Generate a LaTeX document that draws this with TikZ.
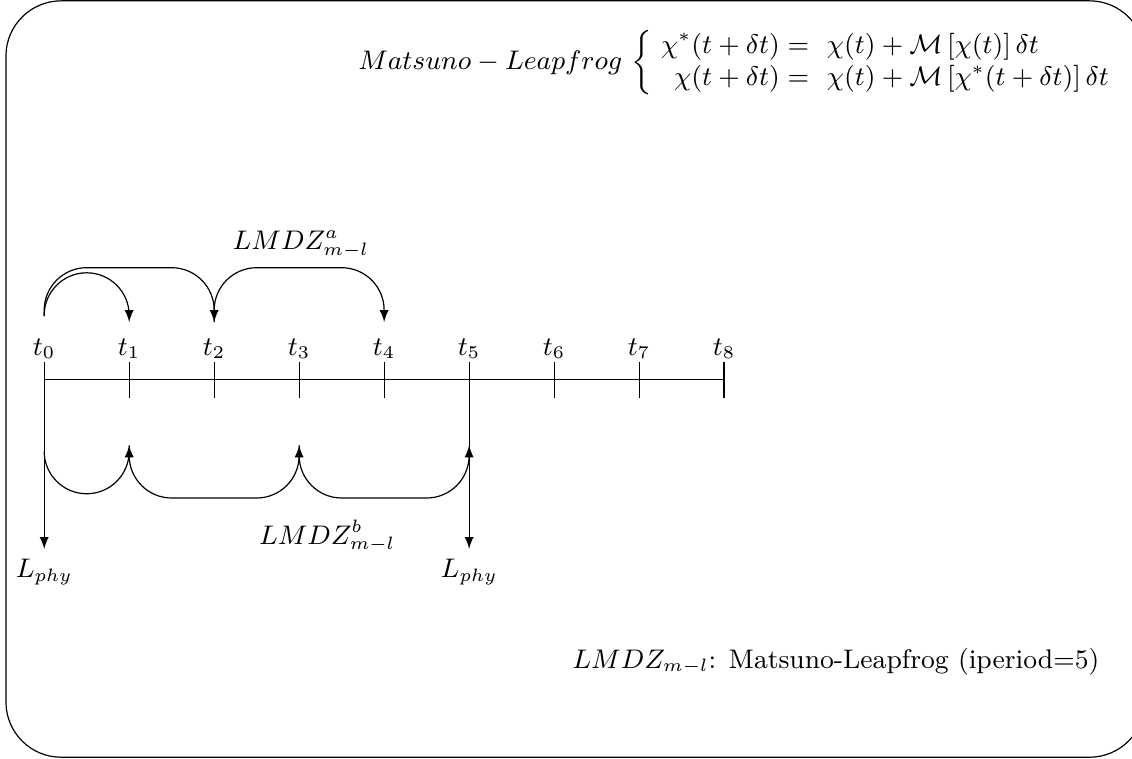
\documentclass[tikz,border=0pt]{standalone}
\usepackage{amsmath}
\begin{document}
\begin{tikzpicture}[font=\fontsize{9}{11}\selectfont]
                \useasboundingbox (-0.52, -4.46) rectangle (12.80, 4.47);
                \draw [rounded corners=0.65cm] (-0.45, -4.44) rectangle (12.95, 4.46);
                \node [left] (scheme) at (12.80, 3.73) {\( Matsuno - Leapfrog \) \( \left\{
                    \arraycolsep=3pt
                    \begin{array}{rl}
                        \chi^{*}(t + \delta t) = & \chi(t) + \mathcal{M} \left[ \chi(t) \right] \delta t \\
                        \chi(t + \delta t) = & \chi(t) + \mathcal{M} \left[ \chi^{*}(t + \delta t) \right] \delta t
                    \end{array} \right. \)};
                % time axis and ticks
                \draw (0, 0) -- (8, 0);
                \draw (0, 0.21) -- (0, -0.21);
                \draw (1, 0.21) -- (1, -0.21);
                \draw (2, 0.21) -- (2, -0.21);
                \draw (3, 0.21) -- (3, -0.21);
                \draw (4, 0.21) -- (4, -0.21);
                \draw (5, 0.21) -- (5, -0.21);
                \draw (6, 0.21) -- (6, -0.21);
                \draw (7, 0.21) -- (7, -0.21);
                \draw (8, 0.21) -- (8, -0.21);
                \node [above, inner sep=1pt] (t0) at (0, 0.21) {\( t_0 \)};
                \node [above, inner sep=1pt] (t1) at (1, 0.21) {\( t_1 \)};
                \node [above, inner sep=1pt] (t2) at (2, 0.21) {\( t_2 \)};
                \node [above, inner sep=1pt] (t3) at (3, 0.21) {\( t_3 \)};
                \node [above, inner sep=1pt] (t4) at (4, 0.21) {\( t_4 \)};
                \node [above, inner sep=1pt] (t5) at (5, 0.21) {\( t_5 \)};
                \node [above, inner sep=1pt] (t6) at (6, 0.21) {\( t_6 \)};
                \node [above, inner sep=1pt] (t7) at (7, 0.21) {\( t_7 \)};
                \node [above, inner sep=1pt] (t8) at (8, 0.21) {\( t_8 \)};
                % leapfrog steps above the axis
                \coordinate (a0) at (0, 0.75);
                \coordinate (a1) at (1, 0.68);
                \coordinate (a2) at (2, 0.68);
                \coordinate (a4) at (4, 0.68);
                \draw [-latex, rounded corners=0.5cm] (a0) -- ++(0, 0.51) -| (a1);
                \draw [-latex, rounded corners=0.5cm] (a0) -- ++(0, 0.57) -| (a2);
                \draw [-latex, rounded corners=0.5cm] (a2) -- ++(0, 0.64) -| (a4);
                \node (lmdza) at (3.02, 1.6) {\( LMDZ^a_{m-l} \)};
                % steps below the axis
                \coordinate (b0) at (0, -0.84);
                \coordinate (b1) at (1, -0.77);
                \coordinate (b3) at (3, -0.77);
                \coordinate (b5) at (5, -0.77);
                \draw [-latex, rounded corners=0.5cm] (b0) -- ++(0, -0.5) -| (b1);
                \draw [-latex, rounded corners=0.5cm] (b1) -- ++(0, -0.62) -| (b3);
                \draw [-latex, rounded corners=0.5cm] (b3) -- ++(0, -0.62) -| (b5);
                \node (lmdzb) at (3.33, -1.84) {\( LMDZ^b_{m-l} \)};
                % physics calls
                \coordinate (p0) at (0, -1.99);
                \coordinate (p5) at (5, -1.99);
                \draw [-latex] (0, 0.21) -- (p0);
                \draw [-latex] (5, 0.21) -- (p5);
                \node [below] (phy0) at (p0) {\( L_{phy} \)};
                \node [below] (phy5) at (p5) {\( L_{phy} \)};
                \node [left] (legend) at (12.54, -3.32) {\( LMDZ_{m-l} \): Matsuno-Leapfrog (iperiod=5)};
            \end{tikzpicture}
\end{document}
